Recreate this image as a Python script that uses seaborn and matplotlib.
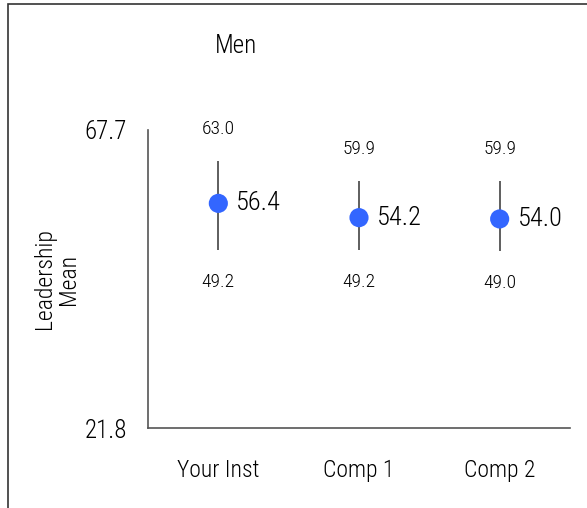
import matplotlib
matplotlib.use("Agg")
import matplotlib.pyplot as plt
import seaborn as sns
import pandas as pd
from matplotlib.patches import Rectangle

groups = ["Your Inst", "Comp 1", "Comp 2"]
means = [56.4, 54.2, 54.0]
upper = [63.0, 59.9, 59.9]
lower = [49.2, 49.2, 49.0]
y_min, y_max = 21.8, 67.7

sns.set_style("white")
plt.rcParams["font.family"] = ["Roboto Condensed", "DejaVu Sans"]
plt.rcParams["font.weight"] = "light"
plt.rcParams["text.color"] = "black"
plt.rcParams["axes.labelcolor"] = "black"
plt.rcParams["axes.labelweight"] = "light"
plt.rcParams["xtick.color"] = "black"
plt.rcParams["ytick.color"] = "black"

df = pd.DataFrame({"group": groups, "mean": means, "upper": upper, "lower": lower})

fig = plt.figure(figsize=(5.87, 5.08), dpi=100)
ax = fig.add_axes([148 / 587, 1 - 428 / 508, (570 - 148) / 587, (428 - 130) / 508])

# error lines
ax.vlines(range(len(df)), df["lower"], df["upper"], color="#333333", linewidth=1.1, zorder=1)
sns.scatterplot(data=df, x="group", y="mean", color="#3366ff", s=190, edgecolor="none",
                zorder=2, ax=ax)

for i, row in df.iterrows():
    ax.annotate(f"{row['mean']:.1f}", (i, row["mean"]), xytext=(18, 0), textcoords="offset pixels",
                ha="left", va="center", fontsize=19)
    ax.annotate(f"{row['upper']:.1f}", (i, row["upper"]), xytext=(0, 32), textcoords="offset pixels",
                ha="center", va="center", fontsize=14)
    ax.annotate(f"{row['lower']:.1f}", (i, row["lower"]), xytext=(0, -32), textcoords="offset pixels",
                ha="center", va="center", fontsize=14)

ax.set_xlim(-0.5, 2.5)
ax.set_ylim(y_min, y_max)
ax.set_yticks([y_min, y_max])
ax.set_yticklabels([f"{y_min:.1f}", f"{y_max:.1f}"], fontsize=18)
ax.set_xticks(range(len(groups)))
ax.set_xticklabels(groups, fontsize=17)
ax.tick_params(axis="both", length=0)
ax.tick_params(axis="y", pad=15)
ax.tick_params(axis="x", pad=22)
ax.set_xlabel("")
ax.set_ylabel("Leadership\nMean", fontsize=17, linespacing=1.1)
ax.yaxis.set_label_coords(-0.16, 0.5)

sns.despine(ax=ax)
for side in ["left", "bottom"]:
    ax.spines[side].set_color("#555555")
    ax.spines[side].set_linewidth(1.2)

fig.text(236 / 587, 1 - 46 / 508, "Men", ha="center", va="center", fontsize=18)

# outer frame
fig.patches.append(Rectangle((8 / 587, -0.1), 1.2, 1 - 4 / 508 + 0.1, transform=fig.transFigure,
                             fill=False, edgecolor="#333333", linewidth=1.2))

fig.savefig("out.png", dpi=100)
